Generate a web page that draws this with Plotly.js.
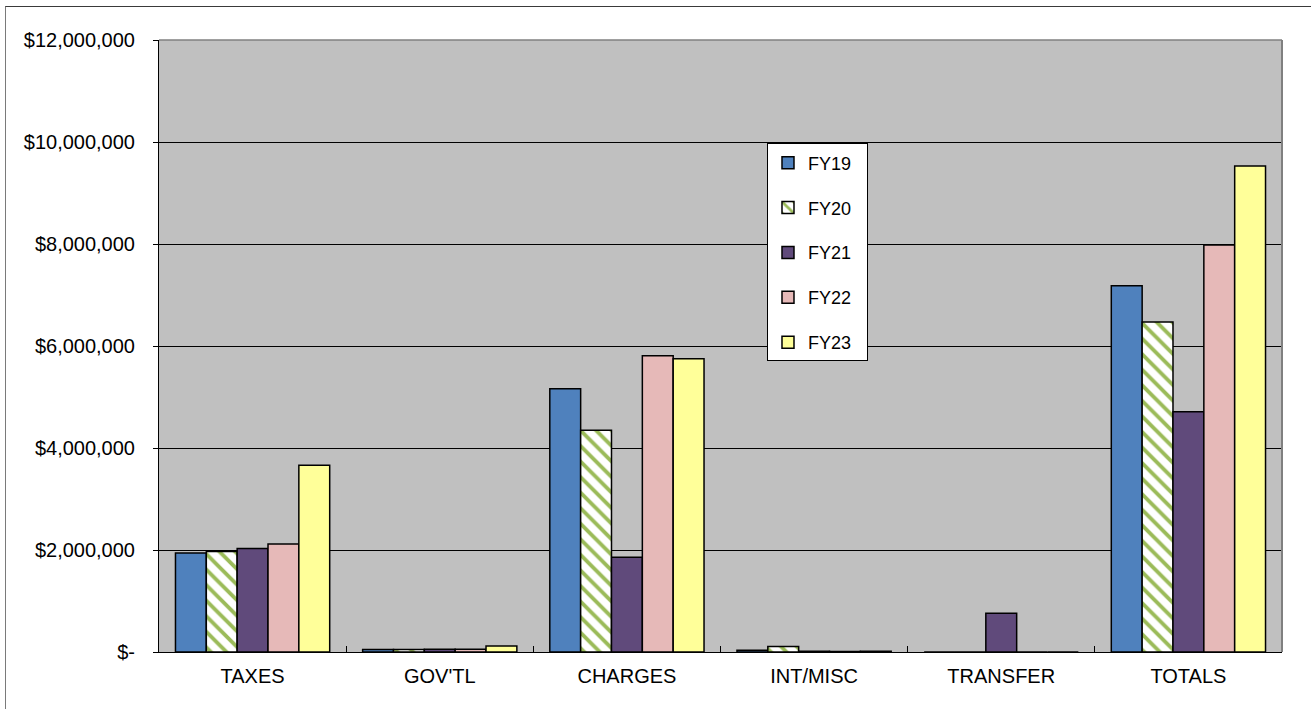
<!DOCTYPE html>
<html>
<head>
<meta charset="utf-8">
<script src="https://cdn.plot.ly/plotly-3.0.1.min.js"></script>
<style>
  html, body { margin: 0; padding: 0; background: #ffffff; overflow: hidden; }
  #frame { position: absolute; left: 5px; top: 6px; width: 1320px; height: 720px;
           border-top: 1px solid #3a3a3a; border-left: 1px solid #7a7a7a; }
  #chart { position: absolute; left: 0; top: 0; width: 1311px; height: 709px; }
</style>
</head>
<body>
<div id="frame"></div>
<div id="chart"></div>
<script>
// Revenue categories along the x axis
const categories = ["TAXES", "GOV'TL", "CHARGES", "INT/MISC", "TRANSFER", "TOTALS"];

// Fiscal year series names
const years = ["FY19", "FY20", "FY21", "FY22", "FY23"];

// Revenue by fiscal year, in dollars
const fy19 = [1940000, 50000, 5160000, 35000, 0, 7180000];
const fy20 = [1970000, 50000, 4350000, 110000, 0, 6470000];
const fy21 = [2030000, 55000, 1860000, 15000, 760000, 4710000];
const fy22 = [2120000, 55000, 5810000, 12000, 0, 7980000];
const fy23 = [3660000, 120000, 5750000, 15000, 0, 9530000];

// Y axis ticks
const yTickVals = [0, 2000000, 4000000, 6000000, 8000000, 10000000, 12000000];
const yTickText = ["$-", "$2,000,000", "$4,000,000", "$6,000,000", "$8,000,000", "$10,000,000", "$12,000,000"];

const outline = { color: "#000000", width: 1.5 };

// legend labels get a little trailing room so the box is not cramped
function series(name, values, color, pattern, group) {
  const marker = { color: color, line: outline };
  if (pattern) marker.pattern = pattern;
  return { type: "bar", name: name + "\u00a0\u00a0", x: categories, y: values, marker: marker,
           legendgroup: group, hoverinfo: "skip" };
}

const traces = [
  series(years[0], fy19, "#4F81BD", null, "a"),
  series(years[1], fy20, "#FFFFFF",
         { shape: "\\", fgcolor: "#9BBB59", bgcolor: "#FFFFFF", size: 11, solidity: 0.35 }, "b"),
  series(years[2], fy21, "#604A7B", null, "c"),
  series(years[3], fy22, "#E6B9B8", null, "d"),
  series(years[4], fy23, "#FFFF99", null, "e")
];

const font = { family: "Liberation Sans, Arial, sans-serif", color: "#000000" };

const layout = {
  width: 1311,
  height: 709,
  margin: { l: 159, r: 29, t: 40, b: 57 },
  paper_bgcolor: "rgba(0,0,0,0)",
  plot_bgcolor: "#C0C0C0",
  barmode: "group",
  bargap: 0.176,
  bargroupgap: 0,
  font: Object.assign({ size: 18 }, font),
  xaxis: {
    type: "category",
    showgrid: false,
    showline: true,
    linecolor: "#000000",
    linewidth: 1,
    ticks: "inside",
    tickson: "boundaries",
    ticklen: 6,
    tickcolor: "#000000",
    tickfont: Object.assign({ size: 20 }, font),
    ticklabelstandoff: 6,
    fixedrange: true
  },
  yaxis: {
    range: [0, 12000000],
    tickvals: yTickVals,
    ticktext: yTickText,
    showgrid: true,
    gridcolor: "#000000",
    gridwidth: 1,
    zeroline: false,
    showline: true,
    linecolor: "#000000",
    linewidth: 1,
    ticks: "outside",
    ticklen: 5,
    tickcolor: "#000000",
    tickfont: Object.assign({ size: 20 }, font),
    ticklabelstandoff: 14,
    fixedrange: true
  },
  legend: {
    x: 0.5414,
    y: 0.831,
    xanchor: "left",
    yanchor: "top",
    bgcolor: "#FFFFFF",
    bordercolor: "#000000",
    borderwidth: 1,
    font: Object.assign({ size: 18 }, font),
    tracegroupgap: 18.5,
    itemwidth: 30
  },
  shapes: [
    { type: "line", xref: "paper", yref: "paper", x0: 0, x1: 1, y0: 1, y1: 1,
      line: { color: "#808080", width: 1.5 } },
    { type: "line", xref: "paper", yref: "paper", x0: 1, x1: 1, y0: 0, y1: 1,
      line: { color: "#808080", width: 2 } }
  ]
};

Plotly.newPlot("chart", traces, layout, { displayModeBar: false, staticPlot: true });
</script>
</body>
</html>
